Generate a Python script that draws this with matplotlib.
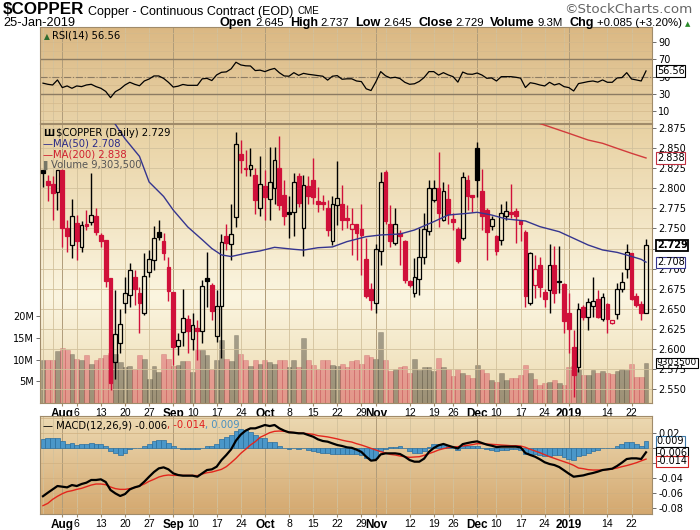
import numpy as np
import pandas as pd
import matplotlib
matplotlib.use('Agg')
import matplotlib.pyplot as plt
from matplotlib.colors import LinearSegmentedColormap
from matplotlib.patches import Rectangle

plt.rcParams['font.family'] = ['DejaVu Sans']
NARROW = ['Liberation Sans Narrow', 'Liberation Sans', 'DejaVu Sans']

# ---------------- data ----------------
opens = [2.823, 2.809, 2.806, 2.796, 2.823, 2.751, 2.729, 2.757, 2.727, 2.756,
         2.758, 2.766, 2.742, 2.736, 2.688, 2.583, 2.607, 2.657, 2.667, 2.690,
         2.670, 2.645, 2.696, 2.711, 2.746, 2.735, 2.702, 2.671, 2.603, 2.621,
         2.637, 2.612, 2.626, 2.6225, 2.688, 2.680, 2.616, 2.653, 2.741, 2.731,
         2.764, 2.843, 2.825, 2.824, 2.817, 2.776, 2.803, 2.787, 2.801, 2.825,
         2.792, 2.770, 2.770, 2.816, 2.751, 2.803, 2.811, 2.784, 2.783, 2.775,
         2.735, 2.779, 2.780, 2.763, 2.749, 2.755, 2.749, 2.712, 2.675, 2.657,
         2.722, 2.820, 2.756, 2.732, 2.744, 2.734, 2.684, 2.669, 2.687, 2.714,
         2.747, 2.786, 2.800, 2.761, 2.787, 2.762, 2.749, 2.738, 2.811, 2.792,
         2.850, 2.797, 2.773, 2.753, 2.740, 2.736, 2.766, 2.770, 2.772, 2.759,
         2.746, 2.657, 2.680, 2.704, 2.671, 2.673, 2.704, 2.6845, 2.681, 2.645,
         2.602, 2.577, 2.652, 2.639, 2.653, 2.662, 2.637, 2.656, 2.632, 2.643,
         2.674, 2.699, 2.719, 2.666, 2.656, 2.645]
highs = [2.823, 2.817, 2.815, 2.823, 2.823, 2.761, 2.787, 2.767, 2.759, 2.773,
         2.819, 2.776, 2.744, 2.736, 2.688, 2.673, 2.650, 2.690, 2.707, 2.698,
         2.677, 2.720, 2.723, 2.753, 2.761, 2.744, 2.715, 2.671, 2.619, 2.674,
         2.642, 2.644, 2.636, 2.686, 2.721, 2.682, 2.673, 2.743, 2.755, 2.781,
         2.870, 2.860, 2.848, 2.850, 2.825, 2.840, 2.823, 2.852, 2.852, 2.866,
         2.811, 2.790, 2.819, 2.819, 2.817, 2.815, 2.838, 2.802, 2.792, 2.786,
         2.790, 2.834, 2.804, 2.779, 2.775, 2.756, 2.781, 2.738, 2.682, 2.731,
         2.820, 2.823, 2.779, 2.775, 2.748, 2.736, 2.686, 2.713, 2.751, 2.769,
         2.811, 2.811, 2.846, 2.808, 2.806, 2.769, 2.752, 2.821, 2.817, 2.792,
         2.858, 2.824, 2.775, 2.765, 2.742, 2.781, 2.784, 2.806, 2.775, 2.759,
         2.748, 2.721, 2.717, 2.715, 2.675, 2.731, 2.728, 2.728, 2.682, 2.669,
         2.623, 2.657, 2.655, 2.663, 2.690, 2.673, 2.669, 2.657, 2.636, 2.682,
         2.696, 2.731, 2.720, 2.669, 2.659, 2.737]
lows = [2.802, 2.784, 2.761, 2.773, 2.727, 2.721, 2.713, 2.711, 2.721, 2.748,
        2.754, 2.742, 2.727, 2.677, 2.549, 2.562, 2.594, 2.644, 2.652, 2.655,
        2.619, 2.642, 2.690, 2.698, 2.736, 2.711, 2.659, 2.580, 2.592, 2.603,
        2.594, 2.598, 2.586, 2.607, 2.652, 2.636, 2.608, 2.588, 2.723, 2.711,
        2.752, 2.819, 2.815, 2.815, 2.768, 2.765, 2.761, 2.761, 2.781, 2.773,
        2.754, 2.738, 2.740, 2.777, 2.716, 2.781, 2.781, 2.771, 2.773, 2.740,
        2.729, 2.754, 2.748, 2.750, 2.717, 2.711, 2.692, 2.663, 2.648, 2.644,
        2.704, 2.756, 2.727, 2.729, 2.704, 2.682, 2.677, 2.664, 2.667, 2.706,
        2.742, 2.783, 2.752, 2.759, 2.756, 2.748, 2.707, 2.736, 2.773, 2.771,
        2.789, 2.748, 2.711, 2.748, 2.717, 2.729, 2.761, 2.763, 2.732, 2.734,
        2.652, 2.655, 2.663, 2.665, 2.652, 2.644, 2.657, 2.669, 2.619, 2.594,
        2.540, 2.571, 2.636, 2.623, 2.640, 2.638, 2.634, 2.619, 2.631, 2.637,
        2.671, 2.688, 2.661, 2.652, 2.636, 2.645]
closes = [2.819, 2.804, 2.794, 2.823, 2.750, 2.740, 2.765, 2.734, 2.754, 2.753,
          2.767, 2.745, 2.734, 2.684, 2.557, 2.618, 2.631, 2.670, 2.698, 2.675,
          2.657, 2.691, 2.712, 2.7385, 2.7395, 2.720, 2.672, 2.602, 2.611, 2.638,
          2.622, 2.630, 2.6225, 2.678, 2.685, 2.647, 2.653, 2.733, 2.7315, 2.743,
          2.856, 2.836, 2.824, 2.829, 2.786, 2.806, 2.789, 2.808, 2.835, 2.779,
          2.765, 2.7685, 2.808, 2.782, 2.804, 2.790, 2.789, 2.781, 2.7805, 2.748,
          2.780, 2.788, 2.761, 2.760, 2.7556, 2.744, 2.742, 2.666, 2.661, 2.724,
          2.808, 2.759, 2.735, 2.756, 2.740, 2.686, 2.679, 2.689, 2.714, 2.749,
          2.800, 2.8006, 2.769, 2.797, 2.768, 2.758, 2.710, 2.814, 2.791, 2.789,
          2.810, 2.766, 2.745, 2.762, 2.722, 2.769, 2.772, 2.768, 2.765, 2.756,
          2.666, 2.719, 2.699, 2.677, 2.662, 2.704, 2.670, 2.683, 2.634, 2.625,
          2.567, 2.649, 2.639, 2.658, 2.659, 2.640, 2.664, 2.637, 2.636, 2.675,
          2.683, 2.721, 2.662, 2.655, 2.644, 2.729]
volume_m = [10.0, 9.8, 10.0, 11.9, 12.6, 12.2, 11.4, 10.2, 9.8, 11.1,
            9.1, 10.0, 10.4, 11.0, 11.6, 11.4, 9.5, 8.3, 8.5, 7.9,
            11.0, 10.2, 5.6, 8.5, 7.2, 11.4, 10.2, 8.5, 8.7, 9.7,
            9.7, 7.2, 12.2, 12.2, 11.0, 7.9, 9.8, 14.5, 10.2, 9.7,
            15.6, 11.4, 10.0, 8.5, 10.0, 9.1, 9.8, 9.5, 9.1, 9.8,
            10.0, 8.3, 10.0, 8.3, 15.0, 9.8, 8.7, 7.9, 9.8, 10.0,
            8.7, 8.5, 8.9, 8.3, 9.7, 10.0, 9.1, 11.0, 10.5, 10.2,
            16.3, 10.0, 7.4, 7.9, 8.3, 8.5, 6.9, 10.2, 7.7, 8.2,
            8.2, 7.4, 10.4, 8.3, 7.9, 6.2, 7.9, 6.8, 6.4, 5.8,
            8.8, 7.9, 6.9, 5.4, 4.8, 6.8, 5.4, 5.8, 5.8, 6.4,
            8.7, 6.9, 5.6, 4.1, 4.5, 4.8, 5.4, 4.5, 4.1, 8.3,
            8.5, 7.9, 6.4, 6.4, 7.7, 6.8, 7.4, 6.8, 6.6, 7.4,
            7.9, 7.7, 9.1, 6.0, 6.0, 9.3035]
rsi = [42.5, 41.2, 40.4, 46.2, 37.4, 39.3, 36.6, 39.3, 38.5, 40.4,
       41.2, 38.5, 36.6, 33.0, 25.8, 32.7, 35.8, 40.4, 43.5, 41.2,
       39.5, 45.0, 47.3, 50.8, 50.8, 48.0, 43.5, 38.0, 39.0, 41.0,
       40.0, 40.0, 40.0, 47.5, 48.0, 45.5, 52.0, 55.0, 55.5, 59.0,
       66.6, 63.5, 62.5, 62.3, 57.0, 57.5, 55.8, 58.0, 59.5, 54.5,
       50.8, 50.5, 54.6, 51.5, 53.8, 52.7, 52.0, 51.2, 50.5, 46.0,
       50.5, 51.2, 47.0, 47.5, 47.5, 45.0, 44.3, 36.0, 34.0, 44.0,
       55.8, 51.0, 48.5, 49.3, 47.8, 43.5, 41.2, 41.8, 44.5, 49.0,
       55.8, 55.8, 51.8, 54.6, 52.0, 50.0, 43.7, 55.3, 53.0, 52.7,
       54.2, 51.8, 48.1, 48.5, 45.0, 50.0, 50.0, 50.0, 49.3, 48.3,
       37.5, 43.0, 42.0, 40.4, 39.3, 43.5, 40.4, 42.0, 38.5, 37.4,
       33.5, 42.0, 43.1, 44.3, 45.0, 43.7, 46.2, 43.5, 43.5, 48.5,
       48.9, 54.6, 47.3, 46.2, 45.0, 56.56]
macd_k = [-64.5, -59.8, -55.3, -50.8, -51.7, -52.6, -49.5, -50.8, -48.1, -46.3,
          -42.7, -42.7, -41.8, -45.4, -56.2, -60.7, -64.2, -61.6, -55.3, -52.6,
          -50.8, -45.0, -38.3, -32.0, -27.1, -25.7, -28.4, -33.8, -36.0, -36.9,
          -36.9, -36.9, -38.3, -33.8, -29.3, -28.4, -24.8, -15.9, -9.1, -1.5,
          10.2, 18.3, 23.6, 26.7, 26.7, 28.9, 31.2, 29.8, 31.2, 26.7,
          23.6, 21.3, 20.9, 20.0, 20.0, 17.7, 15.5, 11.9, 9.7, 8.8,
          6.5, 4.3, 3.0, 1.2, 0.5, -1.9, -5.0, -11.4, -16.7, -15.9,
          -8.3, -6.9, -6.9, -6.9, -7.8, -11.4, -15.9, -18.1, -18.1, -14.0,
          -5.0, 0.3, 3.9, 5.7, 3.5, 1.5, -0.3, 5.5, 7.0, 8.3,
          9.2, 7.0, 4.8, 3.4, 1.6, 2.1, 2.1, 2.1, 2.1, 1.2,
          -6.5, -9.1, -11.4, -14.9, -18.9, -21.2, -22.6, -25.3, -29.7, -34.2,
          -38.3, -37.4, -36.5, -34.7, -33.3, -31.5, -29.3, -28.4, -27.5, -23.9,
          -19.4, -14.5, -13.6, -13.6, -14.5, -5.5]
signal_k = [-77.2, -74.1, -68.7, -64.6, -61.1, -58.4, -57.1, -55.3, -53.9, -51.7,
            -49.5, -48.1, -48.1, -49.0, -52.1, -54.3, -55.3, -55.3, -54.3, -53.0,
            -50.8, -48.1, -44.5, -41.8, -38.7, -36.9, -36.0, -36.5, -36.5, -36.5,
            -36.5, -36.5, -36.9, -34.7, -32.9, -32.0, -30.2, -28.4, -24.8, -19.4,
            -13.6, -6.9, -1.5, 4.3, 8.8, 14.6, 17.7, 20.9, 22.7, 23.1,
            22.7, 21.8, 20.9, 20.4, 20.0, 19.5, 18.7, 16.9, 16.1, 15.2,
            13.9, 12.5, 10.8, 9.4, 8.3, 6.1, 4.3, 2.1, -0.2, -2.4,
            -4.6, -6.5, -8.3, -9.1, -10.5, -11.4, -12.3, -11.8, -11.4, -9.6,
            -7.3, -5.0, -2.4, -0.6, 0.8, 1.6, 2.1, 3.0, 3.9, 4.8,
            6.1, 6.1, 5.7, 5.2, 4.8, 4.3, 3.9, 3.4, 3.4, 3.0,
            1.2, -1.5, -3.7, -6.0, -8.7, -11.4, -13.6, -15.9, -18.1, -20.3,
            -23.0, -26.6, -27.5, -28.8, -29.3, -29.3, -29.3, -28.8, -27.9, -26.6,
            -24.8, -23.3, -21.5, -19.5, -17.0, -14.6]
# moving averages, read at selected bars
ma50_bar = [14, 15, 17, 20, 22, 25, 27, 30, 33, 35, 37, 39, 42, 45, 48, 52, 54, 57, 60,
            63, 67, 70, 74, 77, 81, 84, 88, 90, 93, 96, 100, 103, 107, 110, 113, 116,
            119, 121, 124, 125]
ma50_val = [2.888, 2.880, 2.862, 2.840, 2.808, 2.790, 2.773, 2.752, 2.736, 2.725, 2.717,
            2.715, 2.719, 2.722, 2.7265, 2.724, 2.723, 2.726, 2.727, 2.7336, 2.7398,
            2.7419, 2.7431, 2.7481, 2.7585, 2.7668, 2.7689, 2.7702, 2.7668, 2.7619,
            2.7594, 2.7523, 2.746, 2.7377, 2.7294, 2.7232, 2.7202, 2.7169, 2.7115, 2.708]
ma200_bar = [102, 104, 109, 113, 116, 119, 122, 125]
ma200_val = [2.883, 2.879, 2.8688, 2.8604, 2.8563, 2.850, 2.8438, 2.838]

tick_dates = ['2018-08-01', '2018-08-06', '2018-08-13', '2018-08-20', '2018-08-27',
              '2018-09-04', '2018-09-10', '2018-09-17', '2018-09-24', '2018-10-01',
              '2018-10-08', '2018-10-15', '2018-10-22', '2018-10-29', '2018-11-01',
              '2018-11-12', '2018-11-19', '2018-11-26', '2018-12-03', '2018-12-10',
              '2018-12-17', '2018-12-24', '2019-01-02', '2019-01-14', '2019-01-22']
tick_labels = ['Aug', '6', '13', '20', '27', 'Sep', '10', '17', '24', 'Oct', '8', '15',
               '22', '29', 'Nov', '12', '19', '26', 'Dec', '10', '17', '24', '2019',
               '14', '22']
bold_labels = {'Aug', 'Sep', 'Oct', 'Nov', 'Dec', '2019'}

# trading calendar
days = pd.bdate_range('2018-07-26', '2019-01-25')
closed = pd.to_datetime(['2018-09-03', '2018-11-22', '2018-12-05', '2018-12-25',
                         '2019-01-01', '2019-01-21'])
days = days[~days.isin(closed)]
pos = pd.Series(np.arange(len(days)), index=days)
tick_idx = [pos[pd.Timestamp(d)] for d in tick_dates]
week_idx = pos.groupby(days.to_period('W')).first().values
month_idx = pos.groupby(days.to_period('M')).first().values[1:]

o, h, l, c = (np.array(v) for v in (opens, highs, lows, closes))
n = len(c)
x = np.arange(n)
macd = np.array(macd_k) / 1000
signal = np.array(signal_k) / 1000
hist = macd - signal

# ---------------- figure ----------------
W, H = 700, 530
RED = '#d0103a'
GRID = '#d2c19c'
SPINE = '#a08b6a'

fig = plt.figure(figsize=(W / 100, H / 100), dpi=100)
fig.patch.set_facecolor('white')


def px_axes(x0, y0, x1, y1):
    return fig.add_axes([x0 / W, 1 - y1 / H, (x1 - x0) / W, (y1 - y0) / H])


def shade(a, stops):
    cm = LinearSegmentedColormap.from_list('bg', stops)
    a.imshow(np.linspace(0, 1, 256).reshape(-1, 1), cmap=cm, aspect='auto',
             extent=(0, 1, 0, 1), transform=a.transAxes, origin='lower', zorder=-10)


def frame(a):
    for s in a.spines.values():
        s.set_color(SPINE)
        s.set_linewidth(0.8)
    a.tick_params(axis='y', which='both', left=False, right=True, labelleft=False,
                  labelright=True, length=3, width=0.6, color='#555555', pad=1.5,
                  labelsize=7)
    a.tick_params(axis='x', length=2, color=SPINE, pad=1.5)
    for wi in week_idx:
        a.axvline(wi, color=GRID, lw=0.6, zorder=-5)
    for mi in month_idx:
        a.axvline(mi, color='#b09c7a', lw=0.7, zorder=-5)


def tag(a, y, s, ec, bold=False, lw=0.8, size=7, at=None):
    a.annotate(s, xy=(1, y if at is None else at), xycoords=('axes fraction', 'data'),
               xytext=(3.5, 0), textcoords='offset points', ha='left', va='center',
               fontsize=size, fontweight='bold' if bold else 'normal',
               bbox=dict(boxstyle='square,pad=0.06', fc='white', ec=ec, lw=lw),
               annotation_clip=False, zorder=20)


def xlabels(a):
    a.set_xticks(tick_idx)
    a.set_xticklabels(tick_labels)
    for t in a.get_xticklabels():
        if t.get_text() in bold_labels:
            t.set_fontfamily(NARROW)
            t.set_fontweight('bold')
            t.set_fontsize(8.5)
        else:
            t.set_fontfamily(['Liberation Sans', 'DejaVu Sans'])
            t.set_fontsize(7.5)


XL = (-0.62, 126.24)

# ---- RSI panel ----
ax_rsi = px_axes(40, 27, 652, 123)
shade(ax_rsi, [(0, '#e8d3a8'), (1, '#dbb883')])
frame(ax_rsi)
for lv in range(0, 110, 10):
    ax_rsi.axhline(lv, color='#d4b98c', lw=0.5, zorder=-4)
ax_rsi.axhline(70, color='#8c7b62', lw=1.0)
ax_rsi.axhline(30, color='#8c7b62', lw=1.0)
ax_rsi.axhline(50, color='#8c7b62', lw=0.8, ls='-.')
ax_rsi.plot(x, rsi, color='black', lw=0.9)
ax_rsi.set_xlim(*XL)
ax_rsi.set_ylim(-3.4, 107.2)
ax_rsi.set_yticks([10, 30, 50, 70, 90])
ax_rsi.set_xticks(tick_idx)
ax_rsi.tick_params(axis='x', labelbottom=False, length=0)
tag(ax_rsi, rsi[-1], '56.56', 'black')

# ---- price panel ----
ax = px_axes(40, 124, 652, 403)
axv = ax.twinx()
axv.set_zorder(ax.get_zorder() - 1)
ax.patch.set_visible(False)
shade(axv, [(0, '#ecdab0'), (0.38, '#fbf5e0'), (1, '#e8d1a2')])
for s in axv.spines.values():
    s.set_visible(False)

prev = np.r_[c[0], c[:-1]]
down = c < prev
col = np.where(down, RED, 'black')
hollow = c >= o

axv.bar(x, volume_m, width=1.0, color=np.where(down, RED, 'black'), alpha=0.33,
        edgecolor=np.where(down, '#b02030', '#302a20'), linewidth=0.4)
axv.set_ylim(0, 64.3)
axv.set_yticks([5, 10, 15, 20])
axv.set_yticklabels(['5M', '10M', '15M', '20M'])
axv.tick_params(axis='y', left=True, right=False, labelleft=True, labelright=False,
                length=3, width=0.6, color='#555555', pad=1.5, labelsize=7)

frame(ax)
price_ticks = np.round(np.arange(2.550, 2.876, 0.025), 3)
for pv in price_ticks:
    ax.axhline(pv, color=GRID, lw=0.6, zorder=-4)

bw = 0.78
top = np.maximum(o, c)
bot = np.minimum(o, c)
for i in range(n):
    if hollow[i]:
        ax.vlines(i, top[i], h[i], color=col[i], lw=1.0, zorder=3)
        ax.vlines(i, l[i], bot[i], color=col[i], lw=1.0, zorder=3)
        fc = 'none'
    else:
        ax.vlines(i, l[i], h[i], color=col[i], lw=1.0, zorder=3)
        fc = col[i]
    ax.add_patch(Rectangle((i - bw / 2, bot[i]), bw, max(top[i] - bot[i], 0.0007),
                           facecolor=fc, edgecolor=col[i], lw=0.9, zorder=4))

ax.plot(ma50_bar, ma50_val, color='#35358f', lw=1.0, zorder=5)
ax.plot(ma200_bar, ma200_val, color='#d23b3b', lw=1.0, zorder=5)
ax.set_xlim(*XL)
axv.set_xlim(*XL)
ax.set_ylim(2.5322, 2.8804)
ax.set_yticks(price_ticks)
# 2.725 sits fully under the last-price tag
ax.set_yticklabels(['' if abs(v - 2.725) < 1e-6 else '%.3f' % v for v in price_ticks])
ax.yaxis.tick_right()
xlabels(ax)

tag(ax, ma200_val[-1], '2.838', '#c03040')
tag(ax, c[-1], '2.729', 'black', bold=True, lw=1.3)
tag(ax, ma50_val[-1], '2.708', '#35358f')
tag(axv, volume_m[-1], '9303500', 'black', size=6.5)

# ---- MACD panel ----
ax_m = px_axes(40, 416, 652, 514)
shade(ax_m, [(0, '#d4a86f'), (1, '#ecd9b2')])
frame(ax_m)
for mv in np.arange(-0.08, 0.041, 0.02):
    ax_m.axhline(mv, color='#d0b080', lw=0.5, zorder=-4)
ax_m.bar(x, hist, width=1.0, color='#4a97c9', edgecolor='#2a6e9e', linewidth=0.5,
         zorder=2)
ax_m.plot(x, signal, color='#e3261d', lw=1.0, zorder=3)
ax_m.plot(x, macd, color='black', lw=1.6, zorder=4)
ax_m.set_xlim(*XL)
ax_m.set_ylim(-0.0884, 0.0433)
ax_m.set_yticks([0.02, 0.0, -0.02, -0.04, -0.06, -0.08])
ax_m.set_yticklabels(['0.02', '', '', '-0.04', '-0.06', '-0.08'])
xlabels(ax_m)
tag(ax_m, hist[-1], '0.009', '#3a78a8', at=0.0092)
tag(ax_m, macd[-1], '-0.006', 'black', at=-0.0058)
tag(ax_m, signal[-1], '-0.014', '#d02020', at=-0.0178)

# ---------------- text rows ----------------
renderer = fig.canvas.get_renderer()


def row(pieces, y, x0=None, x1=None, width=None):
    ts = [fig.text(0, 1 - y / H, s, va='baseline', **kw) for s, kw, g in pieces]
    gaps = sum(g for s, kw, g in pieces[:-1])
    if width is not None:
        for _ in range(2):
            tot = sum(t.get_window_extent(renderer).width for t in ts) + gaps
            f = (width - gaps) / (tot - gaps)
            for t in ts:
                t.set_fontsize(t.get_fontsize() * f)
    ws = [t.get_window_extent(renderer).width for t in ts]
    tot = sum(ws) + gaps
    xp = x0 if x0 is not None else x1 - tot
    for t, w, (s, kw, g) in zip(ts, ws, pieces):
        t.set_x(xp / W)
        xp += w + g


B = dict(fontfamily=NARROW, fontweight='bold', color='black')
R = dict(fontfamily=NARROW, color='black')
row([('$COPPER', dict(B, fontsize=13), 4),
     ('Copper - Continuous Contract (EOD)', dict(R, fontsize=9.5), 4),
     ('CME', dict(R, fontsize=7.5), 0)], 14.5, x0=3, width=315)
row([('\u00a9StockCharts.com', dict(fontsize=8, color='#666666'), 0)], 13, x1=692,
    width=128)
row([('25-Jan-2019', dict(R, fontsize=9.5), 0)], 26, x0=3, width=72)
hdr = []
for lab, val in [('Open', '2.645'), ('High', '2.737'), ('Low', '2.645'),
                 ('Close', '2.729'), ('Volume', '9.3M'), ('Chg', '+0.085 (+3.20%)')]:
    hdr.append((lab, dict(B, fontsize=10), 3))
    hdr.append((val, dict(R, fontsize=9), 6))
hdr[-1] = (hdr[-1][0], hdr[-1][1], 3)
hdr.append(('\u25b2', dict(fontsize=5.5, color='#2a8a2a'), 0))
row(hdr, 26, x1=690, width=472)

# panel legends
row([('\u25b2', dict(fontsize=5.5, color='#2f6b2f'), 2),
     ('RSI(14) 56.56', dict(fontsize=7.2, color='black'), 0)], 39, x0=44)
row([('\u0428', dict(fontsize=6.5, fontweight='bold', color='black'), 2),
     ('$COPPER (Daily) 2.729', dict(fontsize=7.2, color='black'), 0)], 136, x0=43)
row([('\u2014MA(50) 2.708', dict(fontsize=7.2, color='#2a2a88'), 0)], 147, x0=43)
row([('\u2014MA(200) 2.838', dict(fontsize=7.2, color='#d02030'), 0)], 158, x0=43)
row([('\u258c', dict(fontsize=6.5, color='#777766'), 1),
     ('Volume 9,303,500', dict(fontsize=7.2, color='#555555'), 0)], 168, x0=43)
row([('\u2014 MACD(12,26,9) -0.006', dict(fontsize=7.2, color='black'), 0),
     (', -0.014', dict(fontsize=7.2, color='#e02020'), 0),
     (', 0.009', dict(fontsize=7.2, color='#4a90c0'), 0)], 428, x0=43)

fig.savefig('out.png', dpi=100, facecolor='white')
